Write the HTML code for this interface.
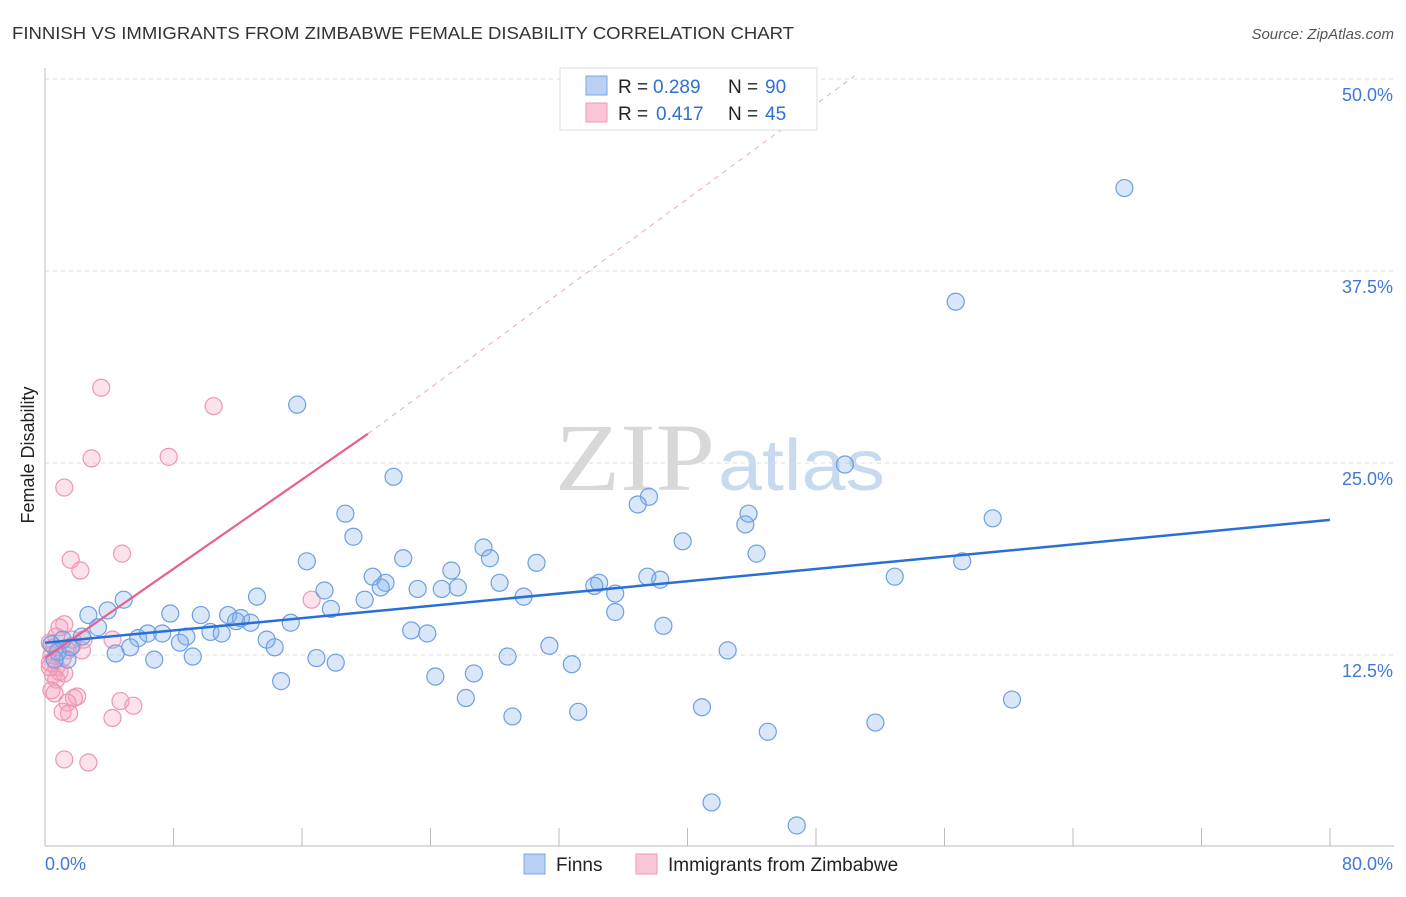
<!DOCTYPE html>
<html><head><meta charset="utf-8"><style>
body{margin:0;background:#fff;font-family:"Liberation Sans",sans-serif;}
svg text{font-family:"Liberation Sans",sans-serif;}
</style></head><body>
<svg id="chart" width="1406" height="892">
<text x="12" y="39" font-size="17.5" fill="#333" textLength="782" lengthAdjust="spacingAndGlyphs">FINNISH VS IMMIGRANTS FROM ZIMBABWE FEMALE DISABILITY CORRELATION CHART</text>
<text x="1394" y="39" font-size="15" fill="#555" font-style="italic" text-anchor="end">Source: ZipAtlas.com</text>
<text x="555" y="490" font-size="96" fill="#d8d8d8" textLength="160" lengthAdjust="spacingAndGlyphs" style="font-family:'Liberation Serif',serif">ZIP</text>
<text x="718" y="490" font-size="72" fill="#c8daf0" textLength="167" lengthAdjust="spacingAndGlyphs">atlas</text>
<g id="grid"></g>
<g id="axes"></g>
<g id="marks"></g>
<text transform="translate(34,455) rotate(-90)" font-size="18" fill="#222" text-anchor="middle">Female Disability</text>
<g>
<rect x="560" y="68" width="257" height="62" fill="#fff" stroke="#ddd"/>
<rect x="586" y="76" width="21" height="19" fill="#b7d0f3" stroke="#7aa6e2"/>
<rect x="586" y="103" width="21" height="19" fill="#f9c6d6" stroke="#ee9ab6"/>
<text x="618" y="93" font-size="19" fill="#222">R =</text>
<text x="653" y="93" font-size="19" fill="#2f6fd6">0.289</text>
<text x="728" y="93" font-size="19" fill="#222">N =</text>
<text x="765" y="93" font-size="19" fill="#2f6fd6">90</text>
<text x="618" y="120" font-size="19" fill="#222">R =</text>
<text x="656" y="120" font-size="19" fill="#2f6fd6">0.417</text>
<text x="728" y="120" font-size="19" fill="#222">N =</text>
<text x="765" y="120" font-size="19" fill="#2f6fd6">45</text>
</g>
<g>
<rect x="524" y="854" width="21" height="20" fill="#b7d0f3" stroke="#7aa6e2"/>
<text x="556" y="871" font-size="19" fill="#222">Finns</text>
<rect x="636" y="854" width="21" height="20" fill="#f9c6d6" stroke="#ee9ab6"/>
<text x="668" y="871" font-size="19" fill="#222">Immigrants from Zimbabwe</text>
</g>
</svg>
<script>
const yTicks=[12.5,25,37.5,50];
const yTickLabels=["12.5%","25.0%","37.5%","50.0%"];
const xTicks=[0,8,16,24,32,40,48,56,64,72,80];
const blueX=[67.2,56.7,15.7,49.8,21.7,37.6,36.9,43.8,43.6,59.0,18.7,19.2,39.7,27.3,44.3,22.3,27.7,30.6,16.3,57.1,25.3,20.4,52.9,37.5,38.3,28.3,21.2,34.5,34.2,17.4,20.9,23.2,24.7,25.7,35.5,13.2,29.8,19.9,4.9,17.8,3.9,2.7,7.8,9.7,11.4,35.5,12.2,11.9,12.8,15.3,38.5,3.3,22.8,23.8,6.4,7.3,10.3,11.0,8.8,2.3,5.8,13.8,8.4,5.3,14.3,31.4,42.5,4.4,9.2,1.4,6.8,28.8,16.9,18.1,32.8,26.7,24.3,14.7,60.2,26.2,40.9,33.2,29.1,51.7,45.0,41.5,46.8,0.4,0.8,0.6,1.6,1.1];
const blueY=[42.9,35.5,28.8,24.9,24.1,22.8,22.3,21.7,21.0,21.4,21.7,20.2,19.9,19.5,19.1,18.8,18.8,18.5,18.6,18.6,18.0,17.6,17.6,17.6,17.4,17.2,17.2,17.2,17.0,16.7,16.9,16.8,16.8,16.9,16.5,16.3,16.3,16.1,16.1,15.5,15.4,15.1,15.2,15.1,15.1,15.3,14.9,14.7,14.6,14.6,14.4,14.3,14.1,13.9,13.9,13.9,14.0,13.9,13.7,13.7,13.6,13.5,13.3,13.0,13.0,13.1,12.8,12.6,12.4,12.2,12.2,12.4,12.3,12.0,11.9,11.3,11.1,10.8,9.6,9.7,9.1,8.8,8.5,8.1,7.5,2.9,1.4,13.2,12.7,12.2,13.0,13.5];
const pinkX=[3.5,10.5,2.9,7.7,1.2,4.8,1.6,2.2,16.6,1.2,0.9,0.7,4.2,2.4,0.3,1.7,0.6,2.3,1.4,0.4,1.1,0.3,0.7,0.9,0.5,1.2,0.7,0.4,0.6,2.0,1.8,1.4,4.7,5.5,1.1,1.5,4.2,1.2,2.7,0.3,1.7];
const pinkY=[29.9,28.7,25.3,25.4,23.4,19.1,18.7,18.0,16.1,14.5,14.3,13.7,13.5,13.5,13.3,13.1,13.0,12.8,12.8,12.5,12.3,12.0,11.7,11.4,11.2,11.3,10.9,10.2,10.0,9.8,9.7,9.4,9.5,9.2,8.8,8.7,8.4,5.7,5.5,11.7,13.5];
const blueTrend=[[0,13.3],[80,21.3]];
const pinkTrend=[[0,12.3],[20.1,26.9]];
const pinkDash=[[20.1,26.9],[50.4,50.2]];

const NS="http://www.w3.org/2000/svg";
const X=v=>45+v/80*1285;
const Y=v=>847-v*15.36;
function mk(parent,tag,attrs){const e=document.createElementNS(NS,tag);for(const k in attrs)e.setAttribute(k,attrs[k]);document.getElementById(parent).appendChild(e);return e;}
yTicks.forEach((t,i)=>{
 let l=mk('grid','line',{x1:45,x2:1394,y1:Y(t),y2:Y(t),stroke:'#ddd','stroke-dasharray':'4,4'});
 
 
 let tx=mk('grid','text',{x:1393,y:Y(t)+22,'font-size':18,fill:'#3f78d8','text-anchor':'end'});
 tx.textContent=yTickLabels[i];
 
 
});
let ax=mk('axes','line',{x1:45,x2:45,y1:68,y2:846,stroke:'#bbb'});


let bx=mk('axes','line',{x1:45,x2:1394,y1:846,y2:846,stroke:'#bbb'});


xTicks.forEach(t=>{let l=mk('axes','line',{x1:X(t),x2:X(t),y1:828,y2:846,stroke:'#bbb'});
 
 });
let x0=mk('axes','text',{x:45,y:870,'font-size':18,fill:'#3f78d8'});x0.textContent='0.0%';


let x1=mk('axes','text',{x:1393,y:870,'font-size':18,fill:'#3f78d8','text-anchor':'end'});x1.textContent='80.0%';


pinkX.forEach((v,i)=>{let c=mk('marks','circle',{cx:X(v),cy:Y(pinkY[i]),r:8.5,fill:'rgba(244,160,190,0.3)',stroke:'#ee95b4','stroke-width':1.2});
 
 });
blueX.forEach((v,i)=>{let c=mk('marks','circle',{cx:X(v),cy:Y(blueY[i]),r:8.5,fill:'rgba(130,175,235,0.3)',stroke:'#6d9fe2','stroke-width':1.2});
 
 });
let pd=mk('marks','line',{x1:X(pinkDash[0][0]),y1:Y(pinkDash[0][1]),x2:X(pinkDash[1][0]),y2:Y(pinkDash[1][1]),stroke:'#eaa8be','stroke-dasharray':'5,5','stroke-width':1});


let pt=mk('marks','line',{x1:X(pinkTrend[0][0]),y1:Y(pinkTrend[0][1]),x2:X(pinkTrend[1][0]),y2:Y(pinkTrend[1][1]),stroke:'#e8608e','stroke-width':2.2});


let bt=mk('marks','line',{x1:X(blueTrend[0][0]),y1:Y(blueTrend[0][1]),x2:X(blueTrend[1][0]),y2:Y(blueTrend[1][1]),stroke:'#2a6fd6','stroke-width':2.5});


</script>
</body></html>
